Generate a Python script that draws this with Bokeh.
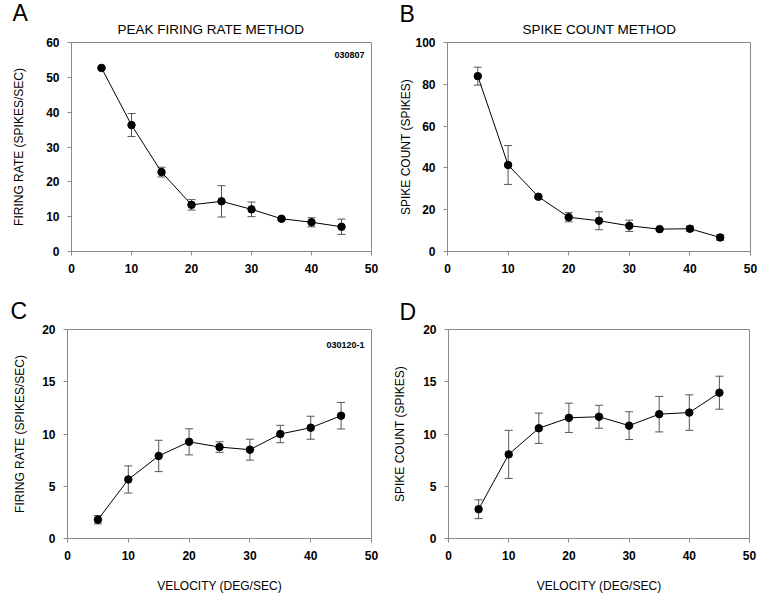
from bokeh.plotting import figure
from bokeh.models import Whisker, TeeHead, ColumnDataSource, Label, FixedTicker, Range1d, Title
from bokeh.layouts import column, row
from bokeh.embed import file_html
from bokeh.resources import INLINE

velocity = [5, 10, 15, 20, 25, 30, 35, 40, 45]

a_rate = [52.7, 36.3, 22.8, 13.4, 14.4, 12.1, 9.4, 8.4, 7.1]
a_err = [0.3, 3.3, 1.4, 1.5, 4.5, 2.1, 0.4, 1.3, 2.2]

b_count = [83.9, 41.4, 26.2, 16.4, 14.7, 12.3, 10.7, 10.9, 6.7]
b_err = [4.3, 9.3, 0.8, 2.2, 4.3, 2.7, 0.5, 1.2, 1.3]

c_rate = [1.8, 5.65, 7.9, 9.25, 8.75, 8.5, 10.0, 10.6, 11.75]
c_err = [0.4, 1.3, 1.5, 1.25, 0.5, 1.0, 0.83, 1.1, 1.27]

d_count = [2.8, 8.05, 10.55, 11.55, 11.65, 10.8, 11.9, 12.05, 13.95]
d_err = [0.9, 2.3, 1.45, 1.4, 1.1, 1.33, 1.7, 1.7, 1.58]

x_ticks = [0, 10, 20, 30, 40, 50]
FONT = "Liberation Sans"
GRAY = "#8a8a8a"


def panel(letter, yvals, yerr, ymax, ystep, ylabel, cfg, title=None, tag=None, xlabel=None):
    p = figure(width=cfg["w"], height=cfg["h"], output_backend="svg", toolbar_location=None,
               x_range=Range1d(0, 50), y_range=Range1d(0, ymax),
               min_border_left=cfg["bl"], min_border_right=cfg["br"],
               min_border_top=cfg["bt"], min_border_bottom=cfg["bb"])
    p.outline_line_color = GRAY
    p.outline_line_width = 1
    p.xgrid.visible = False
    p.ygrid.visible = False
    p.background_fill_color = "white"
    p.border_fill_color = "white"
    for ax in (p.xaxis[0], p.yaxis[0]):
        ax.axis_line_color = GRAY
        ax.major_tick_line_color = GRAY
        ax.minor_tick_line_color = None
        ax.major_tick_in = 0
        ax.major_tick_out = 4
        ax.major_label_text_font = FONT
        ax.major_label_text_font_size = "12px"
        ax.major_label_text_font_style = "bold"
        ax.major_label_text_color = "black"
        ax.axis_label_text_font = FONT
        ax.axis_label_text_font_size = "12px"
        ax.axis_label_text_font_style = "normal"
        ax.axis_label_text_color = "black"
    p.xaxis[0].ticker = FixedTicker(ticks=x_ticks)
    p.yaxis[0].ticker = FixedTicker(ticks=list(range(0, ymax + 1, ystep)))
    p.xaxis[0].major_label_standoff = 8
    p.yaxis[0].major_label_standoff = 8
    p.yaxis[0].axis_label = ylabel
    p.yaxis[0].axis_label_standoff = cfg["ls"]
    if xlabel:
        p.xaxis[0].axis_label = xlabel
        p.xaxis[0].axis_label_standoff = 16

    lower = [v - e for v, e in zip(yvals, yerr)]
    upper = [v + e for v, e in zip(yvals, yerr)]
    src = ColumnDataSource(dict(x=velocity, y=yvals, lo=lower, hi=upper))
    w = Whisker(base="x", lower="lo", upper="hi", source=src, line_color="#555555", line_width=1,
                upper_head=TeeHead(size=8, line_color="#555555", line_width=1),
                lower_head=TeeHead(size=8, line_color="#555555", line_width=1))
    p.add_layout(w)
    p.line("x", "y", source=src, line_color="black", line_width=1)
    p.scatter("x", "y", source=src, size=7.5, fill_color="black", line_color="black")

    if title:
        p.add_layout(Title(text=title, align="left", offset=cfg["tx"], standoff=11,
                           text_font=FONT, text_font_size="13.5px", text_font_style="normal",
                           text_color="black"), "above")
    p.add_layout(Title(text=letter, align="left", offset=cfg["lx"], standoff=cfg["ls2"],
                       vertical_align=cfg.get("va", "bottom"),
                       text_font=FONT, text_font_size="23px", text_font_style="normal",
                       text_color="black"), "above")
    if tag:
        p.add_layout(Label(x=50, y=ymax, x_offset=-7, y_offset=cfg["tg"], text=tag,
                           text_font=FONT, text_font_size="9px", text_font_style="bold",
                           text_color="black", text_baseline="alphabetic", text_align="right"))
    return p


cfg_a = dict(w=386, h=290, bl=71, br=15, bt=41, bb=38, ls=17, lx=-59, ls2=-27, tx=46, tg=-12, va="top")
cfg_b = dict(w=378, h=290, bl=61, br=14, bt=42, bb=39, ls=-1, lx=-48, ls2=-27, tx=75, va="middle")
cfg_c = dict(w=386, h=305, bl=67, br=15, bt=38, bb=55, ls=12, lx=-57, ls2=11, tg=-15)
cfg_d = dict(w=378, h=305, bl=62, br=15, bt=37, bb=57, ls=13, lx=-49, ls2=10)

pa = panel("A", a_rate, a_err, 60, 10, "FIRING RATE (SPIKES/SEC)", cfg_a,
           title="PEAK FIRING RATE METHOD", tag="030807")
pb = panel("B", b_count, b_err, 100, 20, "SPIKE COUNT (SPIKES)", cfg_b,
           title="SPIKE COUNT METHOD")
pc = panel("C", c_rate, c_err, 20, 5, "FIRING RATE (SPIKES/SEC)", cfg_c,
           tag="030120-1", xlabel="VELOCITY (DEG/SEC)")
pd_ = panel("D", d_count, d_err, 20, 5, "SPIKE COUNT (SPIKES)", cfg_d,
            xlabel="VELOCITY (DEG/SEC)")

layout = column(row(pa, pb), row(pc, pd_))
open("out.html", "w").write(file_html(layout, INLINE))
